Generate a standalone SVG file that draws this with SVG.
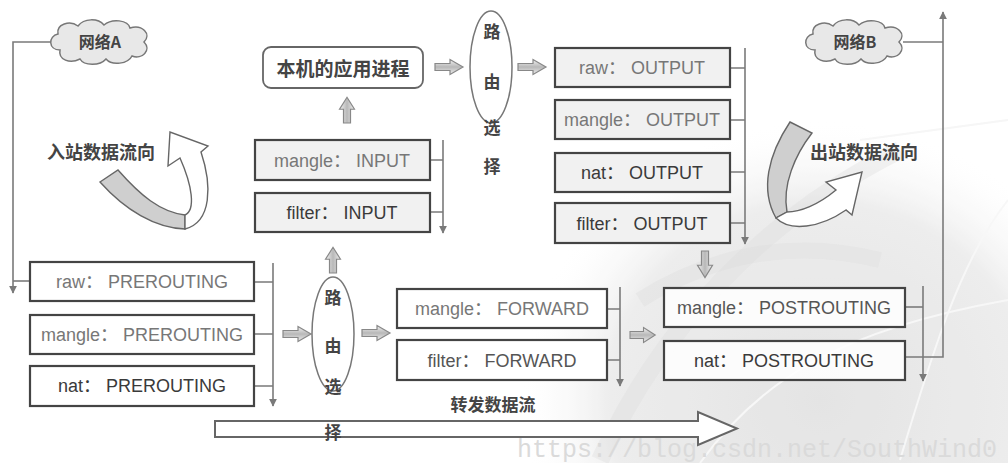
<svg xmlns="http://www.w3.org/2000/svg" width="1008" height="463" viewBox="0 0 1008 463">
  <defs>
    <style>
      .box { fill: #ffffff; stroke: #444; stroke-width: 2.2; }
      .box.shade { fill: #f1f1f1; }
      .lbl { font-family: "Liberation Sans", "Noto Sans CJK SC", sans-serif; font-size: 18px; fill: #555; text-anchor: middle; }
      .lbl.dark { fill: #3a3a3a; }
      .lbl.light { fill: #777; }
      .cjk { font-family: "Noto Sans CJK SC", sans-serif; font-weight: bold; fill: #444; }
      .mid { text-anchor: middle; }
      .wire { fill: none; stroke: #7a7a7a; stroke-width: 1.6; }
      .oval { fill: #ffffff; stroke: #777; stroke-width: 1.5; }
      .cloud { fill: #e8e8e8; stroke: #777; stroke-width: 1.5; }
      .hollow { fill: url(#arrowFill); stroke: #888; stroke-width: 1.2; }
      .ribbon-gray { fill: #cfcfcf; stroke: #666; stroke-width: 1.4; }
      .ribbon-white { fill: #ffffff; stroke: #666; stroke-width: 1.4; }
      .mark { font-family: "Liberation Mono", monospace; font-size: 25px; fill: #dadada; }
    </style>
    <marker id="tip" viewBox="0 0 10 10" refX="9" refY="5" markerWidth="8" markerHeight="8" orient="auto" markerUnits="userSpaceOnUse">
      <path d="M0,0 L10,5 L0,10 Z" fill="#7a7a7a"/>
    </marker>
    <linearGradient id="arrowFill" x1="0" y1="0" x2="0" y2="1">
      <stop offset="0" stop-color="#f2f2f2"/>
      <stop offset="0.5" stop-color="#b8b8b8"/>
      <stop offset="1" stop-color="#eeeeee"/>
    </linearGradient>
    <radialGradient id="globe" cx="0.5" cy="0.5" r="0.5">
      <stop offset="0" stop-color="#dedede"/>
      <stop offset="0.7" stop-color="#e9e9e9"/>
      <stop offset="1" stop-color="#ffffff" stop-opacity="0"/>
    </radialGradient>
    <path id="cloudShape" d="M-40,8 C-52,8 -52,-6 -42,-8 C-44,-18 -30,-22 -22,-16 C-16,-24 -2,-24 4,-17 C12,-24 28,-22 30,-14 C42,-18 52,-8 44,0 C52,8 42,18 32,14 C28,22 12,24 6,17 C0,24 -16,24 -20,17 C-30,22 -42,18 -40,8 Z"/>
    <path id="fat" d="M0,-3.5 L15,-3.5 L15,-7.5 L28,0 L15,7.5 L15,3.5 L0,3.5 Z"/>
  </defs>

  <rect width="1008" height="463" fill="#ffffff"/>

  <!-- faint globe backdrop -->
  <g id="backdrop" opacity="0.8">
    <ellipse cx="820" cy="400" rx="300" ry="280" fill="url(#globe)"/>
    <path d="M600,460 C660,330 760,220 900,150" fill="none" stroke="#d4d4d4" stroke-width="18" opacity="0.35"/>
    <path d="M640,300 C720,250 800,240 880,260" fill="none" stroke="#d6d6d6" stroke-width="16" opacity="0.4"/>
    <path d="M860,140 L1008,120" fill="none" stroke="#f4f4f4" stroke-width="2"/>
    <path d="M900,460 C930,360 960,260 1008,200" fill="none" stroke="#f6f6f6" stroke-width="2"/>
    <path d="M700,463 C760,380 840,330 1008,300" fill="none" stroke="#f6f6f6" stroke-width="2"/>
  </g>
  <text class="mark" x="517" y="457">https://blog.csdn.net/SouthWind0</text>

  <!-- connectors -->
  <g id="connectors">
    <!-- network A into PREROUTING -->
    <path class="wire" d="M52,42 L13,42 L13,293" marker-end="url(#tip)"/>
    <path class="wire" d="M13,281 L30,281"/>
    <!-- PREROUTING chain -->
    <path class="wire" d="M273,263 L273,406" marker-end="url(#tip)"/>
    <path class="wire" d="M254,282 L273,282 M254,334 L273,334 M254,386 L273,386"/>
    <!-- INPUT chain -->
    <path class="wire" d="M443,140 L443,233" marker-end="url(#tip)"/>
    <path class="wire" d="M430,160 L443,160 M430,212 L443,212"/>
    <!-- OUTPUT chain -->
    <path class="wire" d="M745,48 L745,244" marker-end="url(#tip)"/>
    <path class="wire" d="M730,68 L745,68 M730,120 L745,120 M730,172 L745,172 M730,223 L745,223"/>
    <!-- FORWARD chain -->
    <path class="wire" d="M620,287 L620,386" marker-end="url(#tip)"/>
    <path class="wire" d="M607,309 L620,309 M607,360 L620,360"/>
    <!-- POSTROUTING chain -->
    <path class="wire" d="M923,286 L923,381" marker-end="url(#tip)"/>
    <path class="wire" d="M905,307 L923,307"/>
    <!-- out to network B -->
    <path class="wire" d="M905,357 L943,357 L943,12" marker-end="url(#tip)"/>
    <path class="wire" d="M903,42 L943,42"/>

    <!-- fat flow arrows -->
    <use href="#fat" class="hollow" transform="translate(283,334)"/>
    <use href="#fat" class="hollow" transform="translate(362,333)"/>
    <use href="#fat" class="hollow" transform="translate(435,67)"/>
    <use href="#fat" class="hollow" transform="translate(518,67)"/>
    <use href="#fat" class="hollow" transform="translate(630,335) scale(0.9,1)"/>
    <use href="#fat" class="hollow" transform="translate(333,273) rotate(-90) scale(0.92,1)"/>
    <use href="#fat" class="hollow" transform="translate(347,123) rotate(-90) scale(0.92,1)"/>
    <use href="#fat" class="hollow" transform="translate(705,251) rotate(90) scale(0.95,1)"/>

    <!-- forwarding flow -->
    <path d="M215,421 L698,421 L698,412 L737,428.5 L698,445 L698,437 L215,437 Z" fill="#ffffff" stroke="#666" stroke-width="2"/>
  </g>

  <!-- incoming / outgoing direction ribbons -->
  <g id="inbound-flow">
    <path class="ribbon-gray" d="M100,182 L118,170 C140,195 160,212 185,215 L185,229 C155,228 125,210 100,182 Z"/>
    <path class="ribbon-white" d="M185,229 C212,222 212,185 201,152 L208,146 L170,132 L168,166 L180,158 C192,185 196,210 185,215 Z"/>
    <text class="cjk" x="47" y="159" font-size="18">入站数据流向</text>
  </g>
  <g id="outbound-flow">
    <path class="ribbon-gray" d="M790,122 L812,133 C795,155 782,185 787,212 L776,218 C760,190 768,155 790,122 Z"/>
    <path class="ribbon-white" d="M776,218 C790,232 820,228 846,210 L852,215 L862,172 L826,182 L836,190 C818,205 800,212 787,212 Z"/>
    <text class="cjk" x="810" y="159" font-size="18">出站数据流向</text>
  </g>

  <!-- networks -->
  <g id="net-a">
    <use href="#cloudShape" class="cloud" transform="translate(100,42)"/>
    <text class="cjk mid" x="100" y="48" font-size="16">网络A</text>
  </g>
  <g id="net-b">
    <use href="#cloudShape" class="cloud" transform="translate(855,42)"/>
    <text class="cjk mid" x="855" y="48" font-size="16">网络B</text>
  </g>

  <!-- local process -->
  <g id="local-app">
    <rect x="263" y="47" width="160" height="41" rx="8" fill="#ffffff" stroke="#666" stroke-width="1.8"/>
    <text class="cjk mid" x="343" y="76" font-size="19">本机的应用进程</text>
  </g>

  <!-- routing decisions -->
  <g id="route-upper">
    <ellipse class="oval" cx="491" cy="67" rx="21" ry="56"/>
    <text class="cjk mid" x="492" y="38" font-size="17">路</text>
    <text class="cjk mid" x="492" y="88" font-size="17">由</text>
    <text class="cjk mid" x="492" y="134" font-size="17">选</text>
    <text class="cjk mid" x="492" y="173" font-size="17">择</text>
  </g>
  <g id="route-lower">
    <ellipse class="oval" cx="333" cy="334" rx="21" ry="57"/>
    <text class="cjk mid" x="333" y="304" font-size="17">路</text>
    <text class="cjk mid" x="333" y="352" font-size="17">由</text>
    <text class="cjk mid" x="333" y="393" font-size="17">选</text>
    <text class="cjk mid" x="333" y="439" font-size="17">择</text>
  </g>
  <g id="forward-label">
    <text class="cjk mid" x="493" y="411" font-size="17">转发数据流</text>
  </g>

  <!-- PREROUTING -->
  <g id="raw-prerouting">
    <rect class="box" x="30" y="262" width="224" height="39"/>
    <text class="lbl light" x="142" y="288">raw： PREROUTING</text>
  </g>
  <g id="mangle-prerouting">
    <rect class="box" x="30" y="315" width="224" height="39"/>
    <text class="lbl light" x="142" y="341">mangle： PREROUTING</text>
  </g>
  <g id="nat-prerouting">
    <rect class="box" x="30" y="366" width="224" height="40"/>
    <text class="lbl dark" x="142" y="392">nat： PREROUTING</text>
  </g>

  <!-- INPUT -->
  <g id="mangle-input">
    <rect class="box shade" x="255" y="140" width="175" height="40"/>
    <text class="lbl light" x="342" y="167">mangle： INPUT</text>
  </g>
  <g id="filter-input">
    <rect class="box shade" x="255" y="193" width="175" height="39"/>
    <text class="lbl dark" x="342" y="219">filter： INPUT</text>
  </g>

  <!-- OUTPUT -->
  <g id="raw-output">
    <rect class="box shade" x="555" y="48" width="175" height="39"/>
    <text class="lbl light" x="642" y="74">raw： OUTPUT</text>
  </g>
  <g id="mangle-output">
    <rect class="box shade" x="555" y="100" width="175" height="39"/>
    <text class="lbl light" x="642" y="126">mangle： OUTPUT</text>
  </g>
  <g id="nat-output">
    <rect class="box shade" x="555" y="153" width="175" height="39"/>
    <text class="lbl dark" x="642" y="179">nat： OUTPUT</text>
  </g>
  <g id="filter-output">
    <rect class="box shade" x="555" y="203" width="175" height="40"/>
    <text class="lbl dark" x="642" y="230">filter： OUTPUT</text>
  </g>

  <!-- FORWARD -->
  <g id="mangle-forward">
    <rect class="box" x="397" y="289" width="210" height="39"/>
    <text class="lbl light" x="502" y="315">mangle： FORWARD</text>
  </g>
  <g id="filter-forward">
    <rect class="box" x="397" y="340" width="210" height="40"/>
    <text class="lbl" x="502" y="367">filter： FORWARD</text>
  </g>

  <!-- POSTROUTING -->
  <g id="mangle-postrouting">
    <rect class="box" x="664" y="288" width="241" height="39" fill-opacity="0.85"/>
    <text class="lbl" x="784" y="314">mangle： POSTROUTING</text>
  </g>
  <g id="nat-postrouting">
    <rect class="box" x="664" y="341" width="241" height="39" fill-opacity="0.85"/>
    <text class="lbl dark" x="784" y="367">nat： POSTROUTING</text>
  </g>
</svg>
